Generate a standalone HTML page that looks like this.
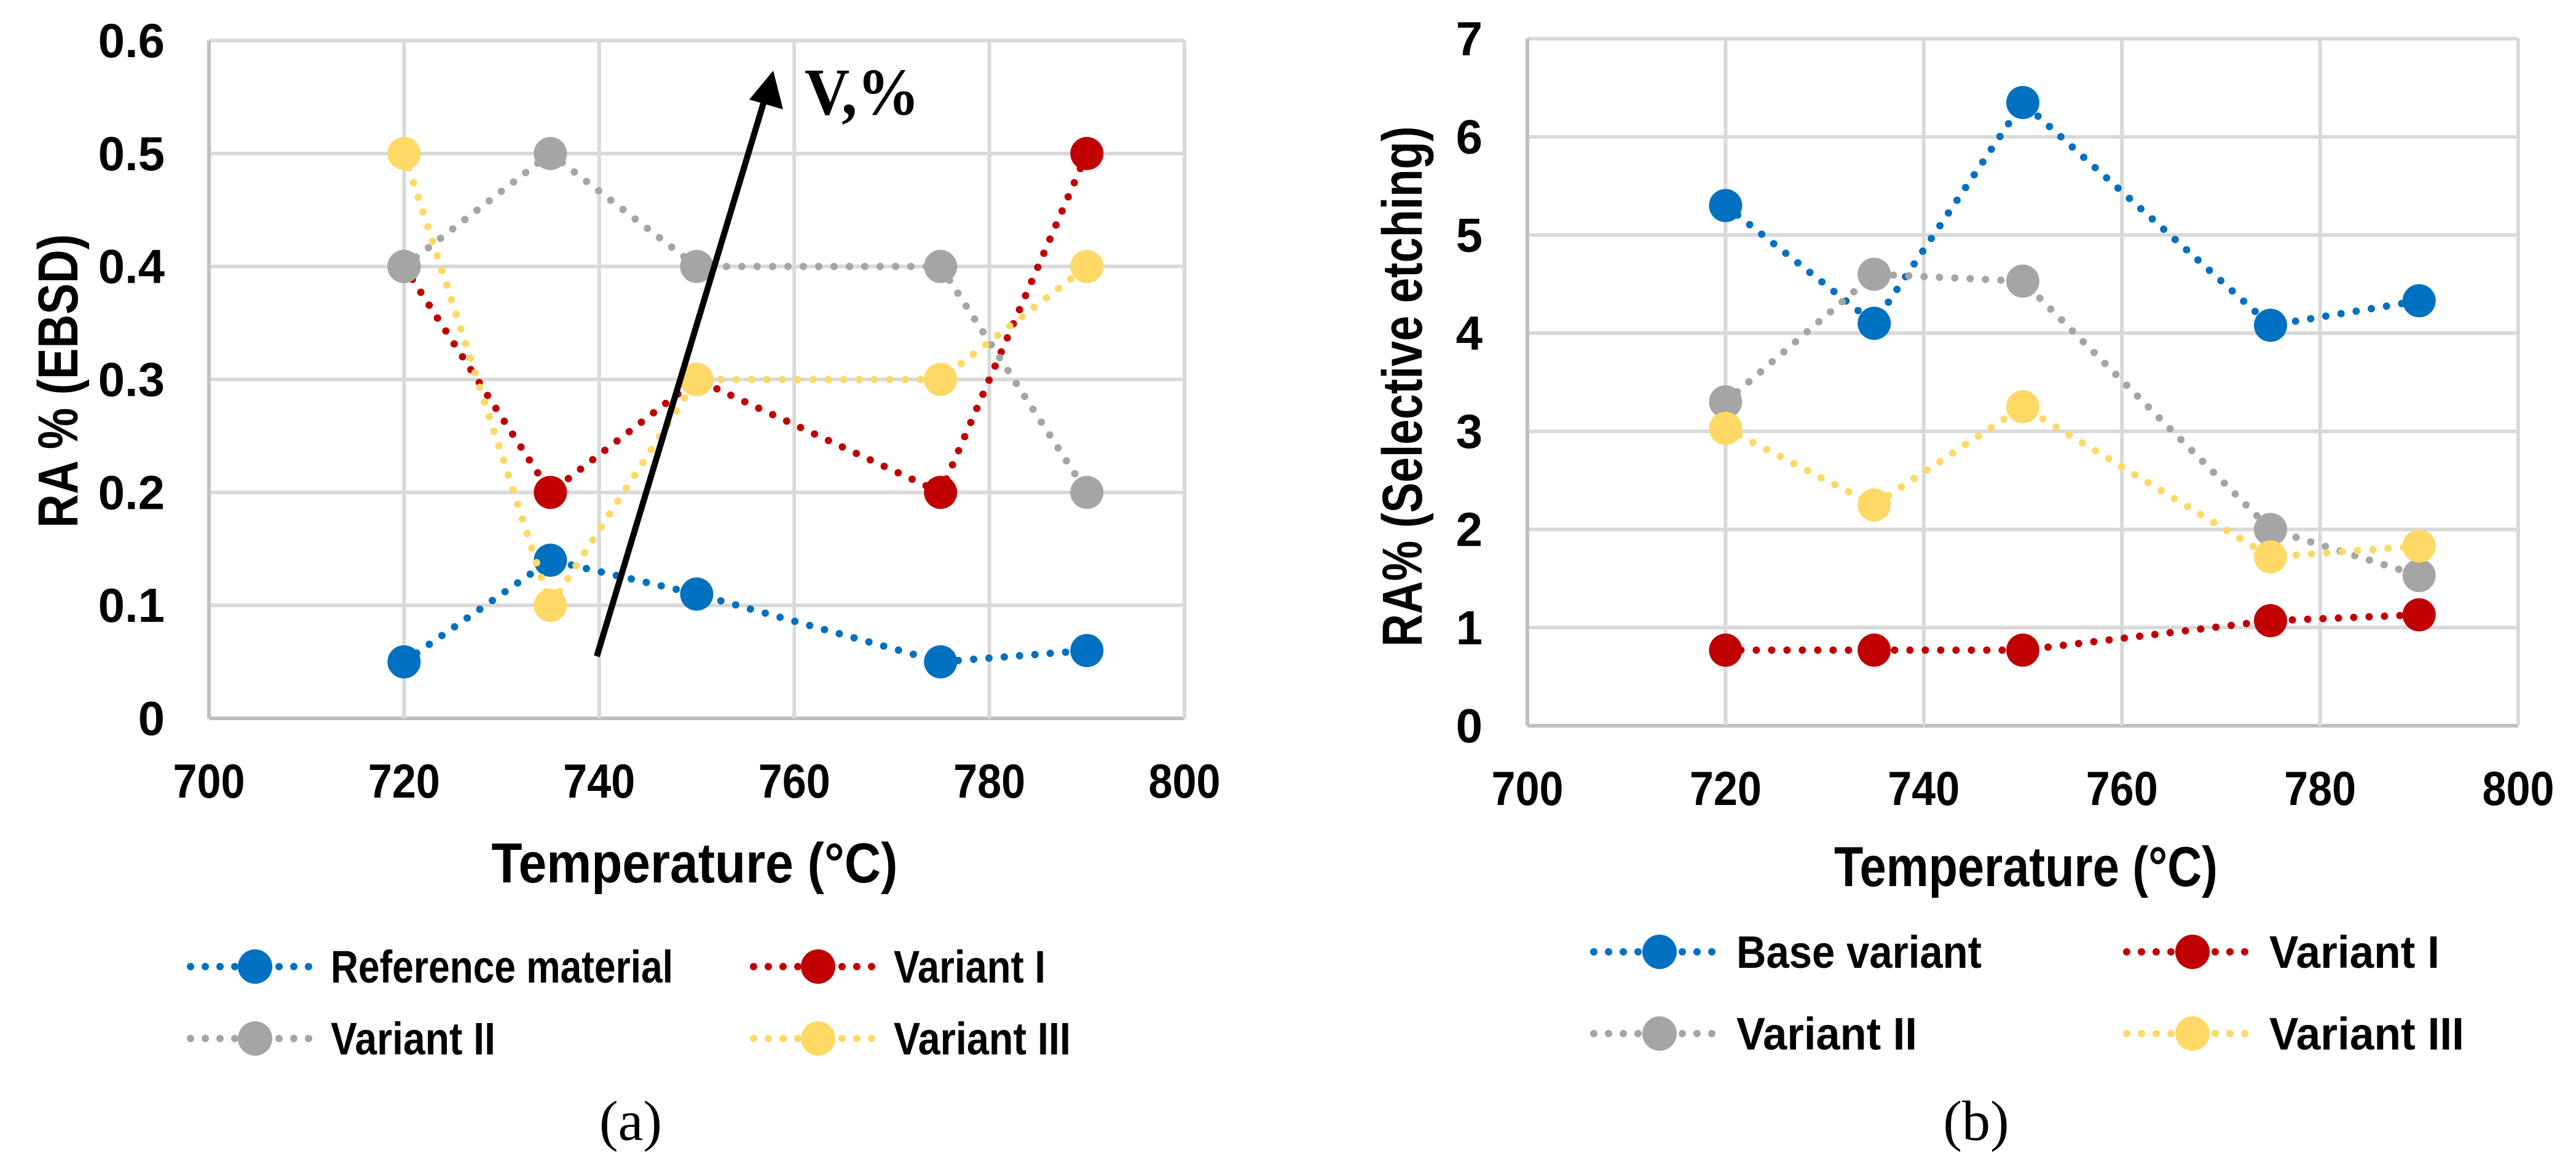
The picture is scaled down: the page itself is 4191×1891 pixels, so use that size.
<!DOCTYPE html>
<html><head><meta charset="utf-8"><style>html,body{margin:0;padding:0;background:#fff}svg{display:block}</style></head>
<body>
<svg id="fig" width="4191" height="1891" viewBox="0 0 4191 1891" xmlns="http://www.w3.org/2000/svg" font-family="Liberation Sans, sans-serif">
<rect width="4191" height="1891" fill="#fff"/>
<g id="chartA"></g>
<g id="chartB"></g>
</svg>
<script>
const temps = [720, 735, 750, 775, 790];
const xTicks = [700, 720, 740, 760, 780, 800];
const aTicks = [0, 0.1, 0.2, 0.3, 0.4, 0.5, 0.6];
const aRef = [0.05, 0.14, 0.11, 0.05, 0.06];
const aV1 = [0.4, 0.2, 0.3, 0.2, 0.5];
const aV2 = [0.4, 0.5, 0.4, 0.4, 0.2];
const aV3 = [0.5, 0.1, 0.3, 0.3, 0.4];
const bTicks = [0, 1, 2, 3, 4, 5, 6, 7];
const bBase = [5.3, 4.1, 6.35, 4.08, 4.33];
const bV1 = [0.77, 0.77, 0.77, 1.07, 1.13];
const bV2 = [3.3, 4.6, 4.53, 2.0, 1.53];
const bV3 = [3.03, 2.25, 3.25, 1.72, 1.83];
const aNames = ["Reference material", "Variant I", "Variant II", "Variant III"];
const bNames = ["Base variant", "Variant I", "Variant II", "Variant III"];

const NS = "http://www.w3.org/2000/svg";
const COLORS = ["#0070C0", "#C00000", "#A5A5A5", "#FFD966"];
function mk(tag, attrs, parent) {
  const e = document.createElementNS(NS, tag);
  for (const k in attrs) e.setAttribute(k, attrs[k]);
  parent.appendChild(e);
  return e;
}
function txt(parent, s, attrs) { const t = mk("text", attrs, parent); t.textContent = s; return t; }

function drawChart(g, cfg) {
  const sx = v => cfg.L + (v - 700) / 100 * (cfg.R - cfg.L);
  const sy = v => cfg.B - v / cfg.ymax * (cfg.B - cfg.T);
  cfg.yTicks.forEach(v => {
    const l = mk("line", {x1: cfg.L, x2: cfg.R, y1: sy(v), y2: sy(v), stroke: v === 0 ? "#BFBFBF" : "#D9D9D9", "stroke-width": 6}, g);
    
    
    const t = txt(g, cfg.yFmt(v), {x: cfg.ylabX, y: sy(v) + 27, "text-anchor": "end", "font-size": 78, "font-weight": "bold"});
    
    
  });
  xTicks.forEach(v => {
    const l = mk("line", {x1: sx(v), x2: sx(v), y1: cfg.T, y2: cfg.B, stroke: v === 700 ? "#BFBFBF" : "#D9D9D9", "stroke-width": 6}, g);
    
    
    const t = txt(g, String(v), {x: sx(v), y: cfg.xlabY + 28, "text-anchor": "middle", "font-size": 78, "font-weight": "bold", textLength: 117, lengthAdjust: "spacingAndGlyphs"});
    
    
  });
  cfg.series.forEach((vals, i) => {
    const sg = mk("g", {}, g);
    
    
    const pts = vals.map((v, j) => sx(temps[j]) + "," + sy(v)).join(" ");
    const pl = mk("polyline", {points: pts, fill: "none", stroke: COLORS[i], "stroke-width": 12, "stroke-dasharray": "0 25", "stroke-linecap": "round"}, sg);
    
    
    vals.forEach((v, j) => {
      const c = mk("circle", {cx: sx(temps[j]), cy: sy(v), r: 27, fill: COLORS[i]}, sg);
      
      
    });
  });
  const yt = txt(g, cfg.yTitle, {x: 0, y: 0, transform: `translate(${cfg.ytX},${cfg.ytY}) rotate(-90)`, "text-anchor": "middle", "font-size": 92, "font-weight": "bold", textLength: cfg.ytLen, lengthAdjust: "spacingAndGlyphs", dy: 32});
  
  
  const xt = txt(g, "Temperature (°C)", {x: cfg.xtX, y: cfg.xtY + 32, "text-anchor": "middle", "font-size": 92, "font-weight": "bold", textLength: cfg.xtLen, lengthAdjust: "spacingAndGlyphs"});
  
  
  cfg.names.forEach((n, i) => {
    const lg = mk("g", {}, g);
    
    
    const col = i % 2, row = Math.floor(i / 2);
    const lx = cfg.legX[col], ly = cfg.legY[row];
    mk("line", {x1: lx, x2: lx + cfg.legLine, y1: ly, y2: ly, stroke: COLORS[i], "stroke-width": 12, "stroke-dasharray": "0 24", "stroke-linecap": "round"}, lg);
    mk("circle", {cx: lx + cfg.legLine / 2 + 5, cy: ly, r: 28, fill: COLORS[i]}, lg);
    txt(lg, n, {x: lx + cfg.legLine + 28, y: ly + 26, "font-size": 74, "font-weight": "bold", textLength: cfg.legLens[i], lengthAdjust: "spacingAndGlyphs"});
  });
  const cap = txt(g, cfg.cap, {x: cfg.capX, y: cfg.capY + 28, "text-anchor": "middle", "font-size": 92, "font-family": "Liberation Serif, serif"});
  
  
}

const gA = document.getElementById("chartA");
drawChart(gA, {L: 340, R: 1927, T: 66, B: 1169, ymax: 0.6, yTicks: aTicks, yFmt: v => v === 0 ? "0" : v.toFixed(1), ylabX: 268, xlabY: 1270,
  series: [aRef, aV1, aV2, aV3], names: aNames, yTitle: "RA % (EBSD)", ytX: 94, ytY: 620, ytLen: 478,
  xtX: 1130, xtY: 1404, xtLen: 661, legX: [310, 1226], legY: [1573, 1690], legLine: 200, legLens: [557, 247, 268, 288],
  cap: "(a)", capX: 1026, capY: 1827});
const arr = mk("g", {}, gA);


mk("line", {x1: 971, y1: 1068, x2: 1243, y2: 165, stroke: "#000", "stroke-width": 10}, arr);
mk("polygon", {points: "1258,115 1274,178 1219,162", fill: "#000"}, arr);
const vt = txt(gA, "V,%", {x: 1309, y: 186, "font-size": 108, "font-weight": "bold", "font-family": "Liberation Serif, serif", textLength: 187, lengthAdjust: "spacingAndGlyphs"});



const gB = document.getElementById("chartB");
drawChart(gB, {L: 2485, R: 4097, T: 63, B: 1181, ymax: 7, yTicks: bTicks, yFmt: v => String(v), ylabX: 2412, xlabY: 1282,
  series: [bBase, bV1, bV2, bV3], names: bNames, yTitle: "RA% (Selective etching)", ytX: 2281, ytY: 629, ytLen: 847,
  xtX: 3296, xtY: 1410, xtLen: 624, legX: [2593, 3460], legY: [1549, 1682], legLine: 204, legLens: [399, 277, 294, 317],
  cap: "(b)", capX: 3215, capY: 1827});
</script>
</body></html>
